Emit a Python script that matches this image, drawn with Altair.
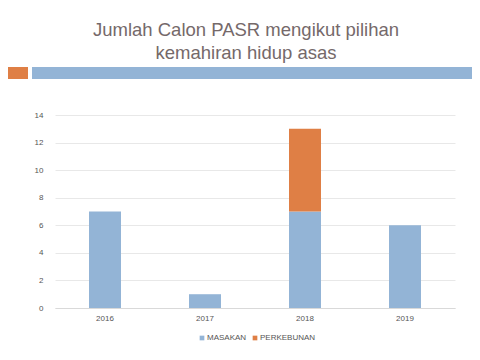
import altair as alt
import pandas as pd

years = ["2016", "2017", "2018", "2019"]
masakan = [7, 1, 7, 6]
perkebunan = [0, 0, 6, 0]
series = ["MASAKAN", "PERKEBUNAN"]
colors = ["#93b4d6", "#df7f45"]
title_lines = ["Jumlah Calon PASR mengikut pilihan", "kemahiran hidup asas"]

rows = []
for i, y in enumerate(years):
    rows.append({"year": y, "series": series[0], "value": masakan[i], "ord": 0})
    rows.append({"year": y, "series": series[1], "value": perkebunan[i], "ord": 1})
df = pd.DataFrame(rows)

W, H = 400, 193

bars = alt.Chart(df).mark_bar(size=32).encode(
    x=alt.X("year:N", title=None, sort=years,
            scale=alt.Scale(paddingInner=0, paddingOuter=0),
            axis=alt.Axis(labelAngle=0, labelFontSize=8, labelColor="#555555",
                          labelFont="Liberation Sans", ticks=False,
                          domainColor="#d9d9d9", labelPadding=6)),
    y=alt.Y("value:Q", title=None, stack="zero",
            scale=alt.Scale(domain=[0, 14]),
            axis=alt.Axis(values=list(range(0, 15, 2)), labelFontSize=8,
                          labelColor="#555555", labelFont="Liberation Sans",
                          ticks=False, domain=False, gridColor="#e8e8e8",
                          labelPadding=12)),
    color=alt.Color("series:N", scale=alt.Scale(domain=series, range=colors),
                    legend=alt.Legend(orient="none", direction="horizontal",
                                      legendX=143, legendY=219, title=None,
                                      symbolType="square", symbolSize=22,
                                      labelFontSize=8, labelColor="#555555",
                                      labelFont="Liberation Sans", labelOffset=1,
                                      columnPadding=4, symbolOffset=0)),
    order=alt.Order("ord:Q"),
)

tdf = pd.DataFrame({"t": title_lines, "yy": [-85, -62]})
title = alt.Chart(tdf).mark_text(fontSize=18.5, font="Liberation Sans",
                                 color="#75696a", align="center",
                                 baseline="middle").encode(
    x=alt.value(191), y=alt.Y("yy:Q", scale=None), text="t:N")

deco_or = alt.Chart(pd.DataFrame({"a": [0]})).mark_rect(color="#df7f45", clip=False).encode(
    x=alt.value(-55), x2=alt.value(-27), y=alt.value(-48), y2=alt.value(-36))
deco_bl = alt.Chart(pd.DataFrame({"a": [0]})).mark_rect(color="#93b4d6", clip=False).encode(
    x=alt.value(-23), x2=alt.value(440), y=alt.value(-48), y2=alt.value(-36))

chart = alt.layer(deco_or, deco_bl, title, bars).properties(
    width=W, height=H,
    autosize=alt.AutoSizeParams(type="none"),
    padding={"left": 47, "top": 107, "right": 17, "bottom": 44},
).configure_view(stroke=None).resolve_scale(y="independent")

chart.save("out.html", embed_options={"renderer": "svg", "actions": False})
